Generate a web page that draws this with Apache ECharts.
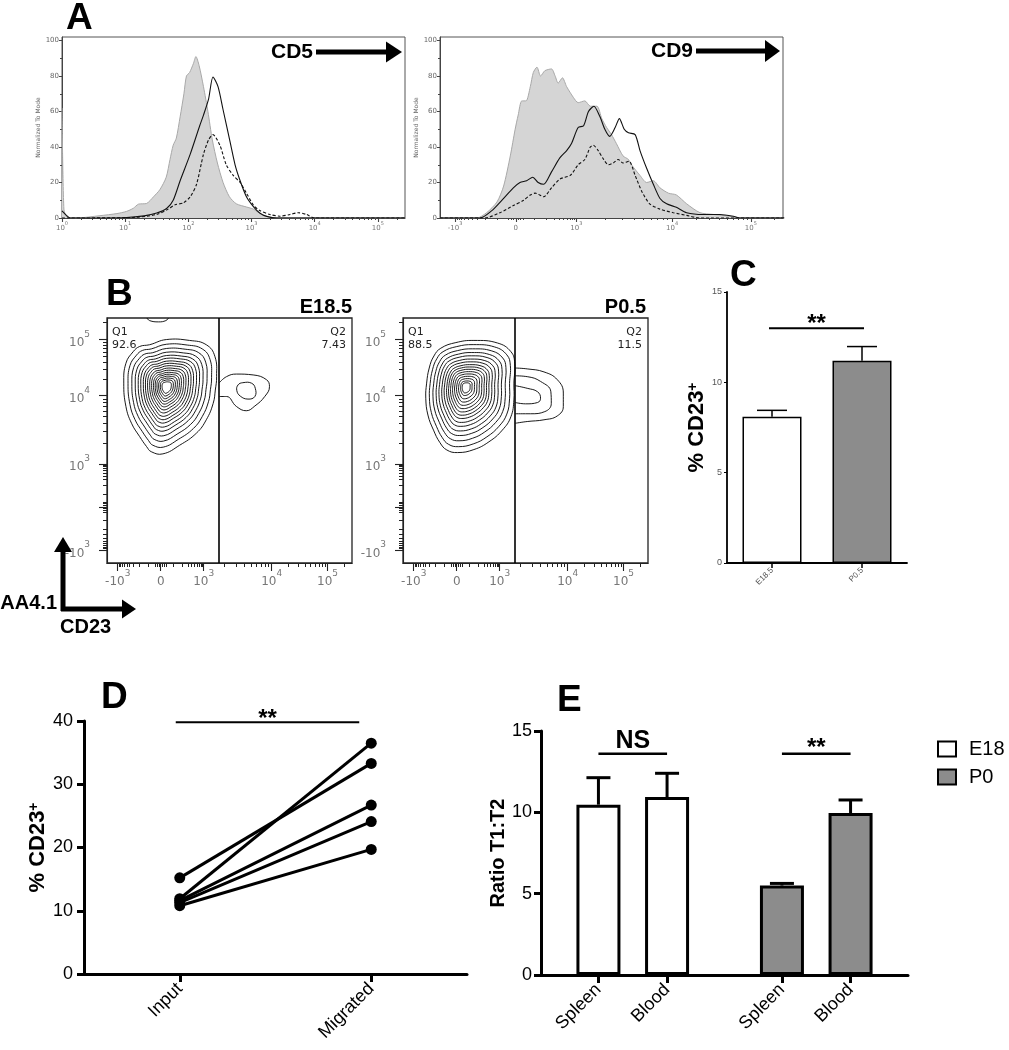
<!DOCTYPE html>
<html><head><meta charset="utf-8">
<script src="https://cdn.jsdelivr.net/npm/echarts@6.0.0/dist/echarts.min.js"></script>
<style>html,body{margin:0;padding:0;background:#fff;}#chart{width:1009px;height:1050px;}</style>
</head><body><div id="chart"></div>
<script>
// ================= DATA =================
// Panel A left: CD5 histograms (x = log10 fluorescence, y = % of mode)
const cd5TickPos = [0, 1, 2, 3, 4, 5];
const cd5TickLbl = ['10^0', '10^1', '10^2', '10^3', '10^4', '10^5'];
const cd5Control = [[0,62],[0.03,5],[0.08,0.5],[0.23,0],[0.6,1.3],[0.87,2.5],[1.02,3.7],[1.13,5.5],[1.21,7.8],[1.34,8.2],[1.45,12],[1.55,16],[1.65,23],[1.71,33],[1.76,41],[1.81,45],[1.87,57],[1.93,70],[1.97,80],[2.02,82],[2.08,87],[2.12,91],[2.17,86],[2.24,74],[2.31,60],[2.38,44],[2.46,31],[2.55,20],[2.65,12],[2.76,8],[2.92,6.2],[3.03,5],[3.16,2],[3.29,0.5],[3.45,0],[5.43,0]];
const cd5Solid = [[0,4],[0.07,1.5],[0.13,0],[1.02,0.3],[1.3,1.2],[1.5,2.8],[1.66,5.5],[1.76,10],[1.87,21],[2.03,36],[2.18,52],[2.24,58],[2.32,67],[2.39,79.5],[2.47,74],[2.55,61],[2.66,43],[2.74,30],[2.82,21],[2.92,12],[3.03,6.4],[3.13,2.8],[3.24,0.9],[3.4,0],[5.43,0]];
const cd5Dashed = [[0,0],[1.13,0.3],[1.5,2],[1.68,5],[1.79,7.5],[1.92,8.5],[2.03,12],[2.13,19],[2.24,36],[2.32,44],[2.39,47],[2.5,41],[2.6,30],[2.71,24],[2.82,20],[2.92,14],[3.03,7.3],[3.13,4.2],[3.29,2],[3.45,1],[3.61,2],[3.74,3],[3.87,2],[4.0,0],[5.43,0]];

// Flow (biexponential) display scale tick positions, shared by panels A right and B
const flowTickPos = [-1, 0, 1, 2.58, 3.88];
const flowTickLbl = ['-10^3', '0', '10^3', '10^4', '10^5'];

// Panel A right: CD9 histograms (x = display units of the biexponential scale)
const cd9Control = [[-1.25,0],[-0.64,0],[-0.48,3],[-0.31,9],[-0.2,18],[-0.09,35],[-0.01,50],[0.04,58],[0.1,66],[0.17,66],[0.24,74],[0.29,82],[0.35,85],[0.41,80],[0.48,83],[0.59,84],[0.65,80],[0.7,76],[0.77,79],[0.84,74],[0.95,68],[1.03,65],[1.14,66],[1.23,63],[1.34,63],[1.42,56],[1.5,51],[1.58,47],[1.66,42],[1.77,35],[1.86,33],[1.91,30],[2.05,24],[2.16,20],[2.27,21],[2.38,17],[2.52,14],[2.65,13],[2.82,8],[3.04,3],[3.26,2],[3.53,1],[3.7,0],[4.43,0]];
const cd9Solid = [[-1.25,0],[-0.59,0],[-0.4,4],[-0.23,10],[-0.04,17],[0.07,20],[0.18,21],[0.28,23],[0.37,20],[0.46,19],[0.59,26],[0.73,34],[0.84,38],[0.92,42],[1.03,51],[1.12,52],[1.2,60],[1.29,63],[1.39,57],[1.47,50],[1.55,46],[1.64,51],[1.71,56],[1.79,50],[1.86,48],[1.97,47],[2.05,38],[2.16,28],[2.27,19],[2.38,11],[2.49,8],[2.65,6],[2.82,3],[3.09,2],[3.37,2],[3.59,1],[3.7,0],[4.43,0]];
const cd9Dashed = [[-1.25,0],[-0.51,0],[-0.26,3],[-0.04,7],[0.13,10],[0.24,13],[0.32,14],[0.46,12],[0.59,17],[0.73,22],[0.9,24],[1.03,30],[1.14,33],[1.23,40],[1.28,41],[1.36,38],[1.45,33],[1.53,30],[1.61,31],[1.69,33],[1.77,31],[1.87,32],[1.97,24],[2.08,15],[2.21,8],[2.38,5],[2.6,3],[2.82,1.5],[3.04,0],[4.43,0]];
const histYTicks = [0, 20, 40, 60, 80, 100];

// Panel B: contour outlines (display units), ring scale factors, gate, quadrant %
const gateX = 1.365;
const e185Center = [0.13, 2.79];
const e185Outline = [[-0.26,3.76],[0.13,3.88],[0.67,3.86],[1.06,3.76],[1.26,3.49],[1.30,3.02],[1.27,2.71],[1.22,2.40],[1.06,2.02],[0.83,1.71],[0.44,1.43],[0.05,1.23],[-0.22,1.28],[-0.33,1.40],[-0.49,1.63],[-0.68,1.94],[-0.81,2.33],[-0.86,2.87],[-0.81,3.33],[-0.64,3.60],[-0.49,3.72]];
const e185RingScales = [1, 0.9, 0.81, 0.73, 0.66, 0.6, 0.54, 0.49, 0.44, 0.39, 0.345, 0.3, 0.26, 0.22, 0.18, 0.14, 0.1];
const e185Q2Outer = [[1.365,2.88],[1.53,3.02],[1.76,3.08],[2.15,3.06],[2.46,2.95],[2.53,2.79],[2.42,2.56],[2.19,2.34],[1.99,2.23],[1.76,2.33],[1.53,2.56],[1.365,2.56]];
const e185Q2Inner = [[1.80,2.83],[1.91,2.88],[2.11,2.87],[2.20,2.75],[2.19,2.56],[2.03,2.50],[1.85,2.57],[1.77,2.70]];
const e185TopEdge = [[-0.32,4.38],[-0.26,4.32],[-0.05,4.29],[0.12,4.32],[0.18,4.38]];
const e185Quad = ['92.6', '7.43'];

const p05Center = [0.21, 2.78];
const p05Outline = [[-0.37,3.68],[-0.02,3.81],[0.40,3.86],[0.95,3.80],[1.26,3.60],[1.35,3.33],[1.33,2.87],[1.33,2.48],[1.26,2.09],[1.06,1.78],[0.75,1.51],[0.40,1.33],[0.02,1.26],[-0.23,1.32],[-0.39,1.49],[-0.54,1.78],[-0.67,2.13],[-0.72,2.52],[-0.70,2.87],[-0.64,3.22],[-0.53,3.50]];
const p05RingScales = [1, 0.91, 0.82, 0.74, 0.67, 0.6, 0.54, 0.48, 0.43, 0.38, 0.33, 0.28, 0.23, 0.18, 0.13, 0.09];
const p05Q2Ring1 = [[1.365,3.22],[1.64,3.20],[2.03,3.13],[2.34,2.95],[2.48,2.64],[2.48,2.33],[2.34,2.11],[2.03,2.02],[1.64,1.98],[1.365,1.94]];
const p05Q2Ring2 = [[1.365,3.04],[1.64,3.02],[1.95,2.91],[2.19,2.67],[2.20,2.40],[2.05,2.21],[1.72,2.16],[1.365,2.16]];
const p05Q2Ring3 = [[1.365,2.81],[1.64,2.75],[1.88,2.67],[1.95,2.52],[1.88,2.42],[1.60,2.39],[1.365,2.42]];
const p05Quad = ['88.5', '11.5'];

// Panel C
const cGroups = ['E18.5', 'P0.5'];
const cMean = [8.1, 11.2];
const cSem = [0.35, 0.78];
const cSigY = 13.0;

// Panel D
const dStages = ['Input', 'Migrated'];
const dInput = [15.2, 11.9, 11.6, 11.3, 10.8];
const dMigrated = [33.3, 36.5, 26.7, 24.1, 19.7];
const dSigY = 39.8;

// Panel E
const eTissues = ['Spleen', 'Blood'];
const eE18Mean = [10.47, 10.94];
const eE18Sem = [1.66, 1.46];
const eP0Mean = [5.5, 9.96];
const eP0Sem = [0.13, 0.8];
const eSigY = [13.6, 13.6];
const eSigLbl = ['NS', '**'];

// ================= HELPERS =================
const FONT = '"Liberation Sans", Arial, Helvetica, sans-serif';
const FLOW_FONT = '"DejaVu Sans", sans-serif';
const GRAY = '#8c8c8c';

function supRich(fs, color, family) {
  return {
    b: {fontSize: fs, color: color, fontFamily: family, lineHeight: Math.round(fs * 1.6), verticalAlign: 'bottom'},
    s: {fontSize: Math.round(fs * 0.75), color: color, fontFamily: family, lineHeight: Math.round(fs * 0.6), verticalAlign: 'top'}
  };
}
function powText(lbl) {
  const m = /^(-?10)\^(-?\d+)$/.exec(lbl);
  return m ? '{b|' + m[1] + '}{s|' + m[2] + '}' : '{b|' + lbl + '}';
}
function lookupLabel(pos, lbl) {
  return function (v) {
    const i = pos.findIndex(p => Math.abs(p - v) < 1e-6);
    return i < 0 ? '' : powText(lbl[i]);
  };
}
function inRange(arr, a, b) { return arr.filter(v => v > a + 1e-6 && v < b - 1e-6); }
function logMinor(min, max) {
  const out = [];
  for (let d = 0; d < 6; d++) for (let k = 2; k <= 9; k++) out.push(d + Math.log10(k));
  return inRange(out, min, max);
}
function flowMinor(min, max) {
  const p = flowTickPos, out = [];
  for (let k = 1; k <= 9; k++) { const v = 1 + 0.7 * (Math.log10(k * 100) - 3); out.push(v, -v); }
  [0.04, 0.08, 0.12].forEach(v => out.push(v, -v));
  for (let d = 2; d < 4; d++) for (let k = 2; k <= 9; k++) out.push(p[d] + (p[d + 1] - p[d]) * Math.log10(k));
  for (let k = 2; k <= 9; k++) out.push(p[4] + (p[4] - p[3]) * Math.log10(k));
  return inRange(out, min, max);
}
function majorValueAxis(gi, pos, min, max, ticks, labels, labelPos, fs, tickLen, color, margin) {
  return {gridIndex: gi, position: pos, type: 'value', min: min, max: max, splitLine: {show: false},
    axisLine: {show: true, onZero: false, lineStyle: {color: color, width: 1.1}},
    axisTick: {show: true, customValues: ticks, length: tickLen, lineStyle: {color: color, width: 1.1}},
    axisLabel: {show: true, customValues: labelPos, formatter: lookupLabel(ticks, labels), rich: supRich(fs, '#777', FLOW_FONT), margin: margin}};
}
function minorAxis(gi, pos, min, max, ticks, len, color) {
  return {gridIndex: gi, position: pos, offset: 0, type: 'value', min: min, max: max, splitLine: {show: false},
    axisLine: {show: false, onZero: false}, axisLabel: {show: false},
    axisTick: {show: true, customValues: ticks, length: len, lineStyle: {color: color, width: 1}}};
}
function histArea(data, xi, yi) {
  return {type: 'line', xAxisIndex: xi, yAxisIndex: yi, data: data, smooth: 0.25, symbol: 'none', silent: true, z: 2,
    lineStyle: {color: '#a8a8a8', width: 1}, areaStyle: {color: '#d5d5d5', opacity: 1}};
}
function histLine(data, xi, yi, dashed) {
  return {type: 'line', xAxisIndex: xi, yAxisIndex: yi, data: data, smooth: 0.25, symbol: 'none', silent: true, z: 3,
    lineStyle: {color: '#111', width: 1.1, type: dashed ? [3, 2] : 'solid'}};
}
function ringSeries(xi, yi, rings) {
  const paths = rings.map(r => r.path);
  const data = [];
  rings.forEach((r, pi) => r.scales.forEach(s => data.push([r.center[0], r.center[1], s, pi])));
  return {type: 'custom', xAxisIndex: xi, yAxisIndex: yi, clip: true, silent: true, z: 3, data: data, encode: {x: 0, y: 1},
    renderItem: function (params, api) {
      const cx = api.value(0), cy = api.value(1), s = api.value(2), path = paths[api.value(3)];
      const pts = path.map(p => api.coord([cx + s * (p[0] - cx), cy + s * (p[1] - cy)]));
      return {type: 'polygon', shape: {points: pts, smooth: 0.45}, style: {fill: 'none', stroke: '#000', lineWidth: 0.9}};
    }};
}
function openPath(data, xi, yi, withGate) {
  const s = {type: 'line', xAxisIndex: xi, yAxisIndex: yi, data: data, smooth: 0.45, symbol: 'none', silent: true, z: 3,
    lineStyle: {color: '#000', width: 0.9}};
  if (withGate) s.markLine = {silent: true, symbol: ['none', 'none'], label: {show: false},
    lineStyle: {color: '#000', width: 1.6, type: 'solid'}, data: [{xAxis: gateX}]};
  return s;
}
function errSeries(xi, yi, data, capPx, lw) {
  return {type: 'custom', xAxisIndex: xi, yAxisIndex: yi, silent: true, z: 4, data: data, encode: {x: 0, y: [1, 2]},
    renderItem: function (params, api) {
      const x = api.value(0), m = api.value(1), e = api.value(2);
      const a = api.coord([x, m]), b = api.coord([x, m + e]);
      return {type: 'group', children: [
        {type: 'line', shape: {x1: a[0], y1: a[1], x2: b[0], y2: b[1]}, style: {stroke: '#000', lineWidth: lw}},
        {type: 'line', shape: {x1: b[0] - capPx / 2, y1: b[1], x2: b[0] + capPx / 2, y2: b[1]}, style: {stroke: '#000', lineWidth: lw}}
      ]};
    }};
}
function sigSeries(xi, yi, data, texts, opt) {
  return {type: 'custom', xAxisIndex: xi, yAxisIndex: yi, silent: true, z: 4, data: data, encode: {x: [0, 1], y: 2},
    renderItem: function (params, api) {
      const y = api.value(2);
      const a = api.coord([api.value(0), y]), b = api.coord([api.value(1), y]);
      const x1 = a[0] + opt.insL, x2 = b[0] - opt.insR;
      const t = texts[params.dataIndex];
      const big = t !== '**';
      return {type: 'group', children: [
        {type: 'line', shape: {x1: x1, y1: a[1], x2: x2, y2: a[1]}, style: {stroke: '#000', lineWidth: opt.lw}},
        {type: 'text', x: (x1 + x2) / 2, y: a[1] - (big ? opt.offBig : opt.off),
          style: {text: t, fill: '#000', fontFamily: FONT, fontWeight: 'bold', fontSize: big ? opt.fsBig : opt.fs,
            align: 'center', verticalAlign: 'middle', textAlign: 'center', textVerticalAlign: 'middle'}}
      ]};
    }};
}
const E_OFF = 0.187;
function ePos(g, i) { return g + 0.5 + (i - 0.5) * 2 * E_OFF; }
const ePositions = [ePos(0, 0), ePos(0, 1), ePos(1, 0), ePos(1, 1)];

function txt(x, y, text, fs, opts) {
  opts = opts || {};
  return {type: 'text', x: x, y: y, silent: true, z: 10,
    style: {text: text, fill: opts.color || '#000', fontFamily: opts.family || FONT, fontWeight: opts.weight || 'bold', fontSize: fs,
      align: opts.align || 'left', textAlign: opts.align || 'left', verticalAlign: 'middle', textVerticalAlign: 'middle'}};
}
function seg(x1, y1, x2, y2, w) { return {type: 'line', silent: true, z: 10, shape: {x1: x1, y1: y1, x2: x2, y2: y2}, style: {stroke: '#000', lineWidth: w}}; }
function tri(pts) { return {type: 'polygon', silent: true, z: 10, shape: {points: pts}, style: {fill: '#000'}}; }

const nameRich = (fs) => ({fontSize: fs, fontWeight: 'bold', fontFamily: FONT, color: '#000',
  rich: {s: {fontSize: Math.round(fs * 0.62), fontWeight: 'bold', fontFamily: FONT, color: '#000', verticalAlign: 'top', lineHeight: Math.round(fs * 0.62)}}});

// ================= OPTION =================
const A_X = [0, 5.43], A2_X = [-1.25, 4.41], B_X = [-1.25, 4.45], B_Y = [-1.3, 4.38], H_Y = [0, 102];
const grids = [
  {left: 62, top: 37, width: 343, height: 181, show: true, borderColor: '#555', borderWidth: 1},
  {left: 440, top: 37, width: 343, height: 181, show: true, borderColor: '#555', borderWidth: 1},
  {left: 107, top: 318, width: 245, height: 245, show: true, borderColor: '#222', borderWidth: 1.3},
  {left: 403, top: 318, width: 245, height: 245, show: true, borderColor: '#222', borderWidth: 1.3},
  {left: 727, top: 292, width: 180, height: 271},
  {left: 84, top: 721, width: 383, height: 253},
  {left: 541, top: 731, width: 367, height: 244}
].map(g => Object.assign({containLabel: false, outerBoundsMode: 'none'}, g));

function histY(gi) {
  return {gridIndex: gi, position: 'left', type: 'value', min: H_Y[0], max: H_Y[1], splitLine: {show: false},
    axisLine: {show: true, onZero: false, lineStyle: {color: '#444', width: 1}},
    axisTick: {show: true, customValues: histYTicks, length: 3, lineStyle: {color: '#444'}},
    axisLabel: {show: true, customValues: histYTicks, fontSize: 7, color: '#666', fontFamily: FLOW_FONT, margin: 3},
    name: 'Normalized To Mode', nameLocation: 'middle', nameGap: 17,
    nameTextStyle: {fontSize: 6, color: '#666', fontFamily: FLOW_FONT}};
}
const histYMinor = [10, 30, 50, 70, 90];
const bYLabelPos = [-1, 1, 2.58, 3.88];

const option = {
  animation: false,
  backgroundColor: '#fff',
  textStyle: {fontFamily: FONT},
  grid: grids,
  legend: {show: true, selectedMode: false, orient: 'vertical', left: 932, top: 734, itemWidth: 18, itemHeight: 15, itemGap: 8,
    icon: 'rect', data: ['E18', 'P0'],
    textStyle: {fontSize: 20, fontFamily: FONT, color: '#000', lineHeight: 20, padding: [0, 0, 0, 8]}},
  xAxis: [
    majorValueAxis(0, 'bottom', A_X[0], A_X[1], cd5TickPos, cd5TickLbl, cd5TickPos, 7, 4, '#444', 3),
    minorAxis(0, 'bottom', A_X[0], A_X[1], logMinor(A_X[0], A_X[1]), 2, '#444'),
    majorValueAxis(1, 'bottom', A2_X[0], A2_X[1], flowTickPos, flowTickLbl, flowTickPos, 7, 4, '#444', 3),
    minorAxis(1, 'bottom', A2_X[0], A2_X[1], flowMinor(A2_X[0], A2_X[1]), 2, '#444'),
    majorValueAxis(2, 'bottom', B_X[0], B_X[1], flowTickPos, flowTickLbl, flowTickPos, 12, 8, '#222', 6),
    minorAxis(2, 'bottom', B_X[0], B_X[1], flowMinor(B_X[0], B_X[1]), 4, '#222'),
    majorValueAxis(3, 'bottom', B_X[0], B_X[1], flowTickPos, flowTickLbl, flowTickPos, 12, 8, '#222', 6),
    minorAxis(3, 'bottom', B_X[0], B_X[1], flowMinor(B_X[0], B_X[1]), 4, '#222'),
    {gridIndex: 4, position: 'bottom', type: 'category', data: cGroups, boundaryGap: true,
      axisLine: {show: true, onZero: false, lineStyle: {color: '#000', width: 1.8}},
      axisTick: {show: true, alignWithLabel: true, length: 5, lineStyle: {color: '#000', width: 1.5}},
      axisLabel: {rotate: 45, fontSize: 8, color: '#555', fontFamily: FONT, margin: 6}},
    {gridIndex: 5, position: 'bottom', type: 'category', data: dStages, boundaryGap: true,
      axisLine: {show: true, onZero: false, lineStyle: {color: '#000', width: 3}},
      axisTick: {show: true, alignWithLabel: true, length: 8, lineStyle: {color: '#000', width: 3}},
      axisLabel: {rotate: 45, fontSize: 18, color: '#000', fontFamily: FONT, margin: 12}},
    {gridIndex: 6, position: 'bottom', type: 'value', min: 0, max: 2, splitLine: {show: false},
      axisLine: {show: true, onZero: false, lineStyle: {color: '#000', width: 3}},
      axisTick: {show: true, customValues: ePositions, length: 8, lineStyle: {color: '#000', width: 3}},
      axisLabel: {show: true, customValues: ePositions, rotate: 45, fontSize: 18, color: '#000', fontFamily: FONT, margin: 12,
        formatter: function (v) { const i = ePositions.findIndex(p => Math.abs(p - v) < 1e-6); return i < 0 ? '' : eTissues[i % 2]; }}}
  ],
  yAxis: [
    histY(0),
    minorAxis(0, 'left', H_Y[0], H_Y[1], histYMinor, 2, '#444'),
    histY(1),
    minorAxis(1, 'left', H_Y[0], H_Y[1], histYMinor, 2, '#444'),
    majorValueAxis(2, 'left', B_Y[0], B_Y[1], flowTickPos, flowTickLbl, bYLabelPos, 12, 8, '#222', 17),
    minorAxis(2, 'left', B_Y[0], B_Y[1], flowMinor(B_Y[0], B_Y[1]), 4, '#222'),
    majorValueAxis(3, 'left', B_Y[0], B_Y[1], flowTickPos, flowTickLbl, bYLabelPos, 12, 8, '#222', 17),
    minorAxis(3, 'left', B_Y[0], B_Y[1], flowMinor(B_Y[0], B_Y[1]), 4, '#222'),
    {gridIndex: 4, position: 'left', type: 'value', min: 0, max: 15, interval: 5, splitLine: {show: false},
      axisLine: {show: true, onZero: false, lineStyle: {color: '#000', width: 1.8}},
      axisTick: {show: true, length: 3, lineStyle: {color: '#000', width: 1}},
      axisLabel: {fontSize: 9, color: '#555', fontFamily: FONT, margin: 5},
      name: '% CD23{s|+}', nameLocation: 'middle', nameGap: 12, nameTextStyle: nameRich(22)},
    {gridIndex: 5, position: 'left', type: 'value', min: 0, max: 40, interval: 10, splitLine: {show: false},
      axisLine: {show: true, onZero: false, lineStyle: {color: '#000', width: 3}},
      axisTick: {show: true, length: 7, lineStyle: {color: '#000', width: 3}},
      axisLabel: {fontSize: 18, color: '#000', fontFamily: FONT, margin: 11},
      name: '% CD23{s|+}', nameLocation: 'middle', nameGap: 29, nameTextStyle: nameRich(22)},
    {gridIndex: 6, position: 'left', type: 'value', min: 0, max: 15, interval: 5, splitLine: {show: false},
      axisLine: {show: true, onZero: false, lineStyle: {color: '#000', width: 3}},
      axisTick: {show: true, length: 7, lineStyle: {color: '#000', width: 3}},
      axisLabel: {fontSize: 18, color: '#000', fontFamily: FONT, margin: 9},
      name: 'Ratio T1:T2', nameLocation: 'middle', nameGap: 29, nameTextStyle: {fontSize: 20, fontWeight: 'bold', fontFamily: FONT, color: '#000'}}
  ],
  series: [
    // A left
    histArea(cd5Control, 0, 0), histLine(cd5Solid, 0, 0, false), histLine(cd5Dashed, 0, 0, true),
    // A right
    histArea(cd9Control, 2, 2), histLine(cd9Solid, 2, 2, false), histLine(cd9Dashed, 2, 2, true),
    // B left (E18.5)
    ringSeries(4, 4, [{path: e185Outline, center: e185Center, scales: e185RingScales}, {path: e185Q2Inner, center: [0, 0], scales: [1]}]),
    openPath(e185Q2Outer, 4, 4, true), openPath(e185TopEdge, 4, 4, false),
    // B right (P0.5)
    ringSeries(6, 6, [{path: p05Outline, center: p05Center, scales: p05RingScales}]),
    openPath(p05Q2Ring1, 6, 6, true), openPath(p05Q2Ring2, 6, 6, false), openPath(p05Q2Ring3, 6, 6, false),
    // C
    {type: 'bar', xAxisIndex: 8, yAxisIndex: 8, barWidth: 59, silent: true,
      data: cMean.map((v, i) => ({value: v, itemStyle: {color: i === 0 ? '#fff' : GRAY}})),
      itemStyle: {borderColor: '#000', borderWidth: 1.5}},
    errSeries(8, 8, cGroups.map((g, i) => [g, cMean[i], cSem[i]]), 30, 1.5),
    sigSeries(8, 8, [[cGroups[0], cGroups[1], cSigY]], ['**'], {insL: -3, insR: -2, lw: 2, off: 4, fs: 24, offBig: 12, fsBig: 25}),
    // D
    ...dInput.map((v, i) => ({type: 'line', xAxisIndex: 9, yAxisIndex: 9, data: [v, dMigrated[i]], silent: true, z: 3,
      symbol: 'circle', symbolSize: 11, lineStyle: {color: '#000', width: 3}, itemStyle: {color: '#000'}})),
    sigSeries(9, 9, [[dStages[0], dStages[1], dSigY]], ['**'], {insL: -4, insR: 12, lw: 2, off: 3, fs: 24, offBig: 12, fsBig: 25}),
    // E
    {name: 'E18', type: 'bar', xAxisIndex: 10, yAxisIndex: 10, barWidth: 44, barGap: '-100%', silent: true,
      data: eE18Mean.map((v, i) => [ePos(0, i), v]), itemStyle: {color: '#fff', borderColor: '#000', borderWidth: 3}},
    {name: 'P0', type: 'bar', xAxisIndex: 10, yAxisIndex: 10, barWidth: 44, barGap: '-100%', silent: true,
      data: eP0Mean.map((v, i) => [ePos(1, i), v]), itemStyle: {color: GRAY, borderColor: '#000', borderWidth: 3}},
    errSeries(10, 10, eE18Mean.map((v, i) => [ePos(0, i), v, eE18Sem[i]]).concat(eP0Mean.map((v, i) => [ePos(1, i), v, eP0Sem[i]])), 24, 3),
    sigSeries(10, 10, [[ePos(0, 0), ePos(0, 1), eSigY[0]], [ePos(1, 0), ePos(1, 1), eSigY[1]]], eSigLbl,
      {insL: 0, insR: 0, lw: 2.5, off: 5, fs: 24, offBig: 13, fsBig: 25})
  ],
  graphic: {elements: [
    // panel letters
    txt(66, 19, 'A', 37), txt(106, 295, 'B', 37), txt(730, 276, 'C', 37), txt(101, 698, 'D', 37), txt(557, 701, 'E', 37),
    // A markers
    txt(313, 52, 'CD5', 21, {align: 'right'}), seg(316, 52, 390, 52, 5), tri([[386, 41.5], [402, 52], [386, 62.5]]),
    txt(693, 51, 'CD9', 21, {align: 'right'}), seg(696, 51, 768, 51, 5), tri([[765, 40], [780, 51], [765, 62]]),
    // B titles and quadrant labels
    txt(352, 307, 'E18.5', 20, {align: 'right'}), txt(646, 307, 'P0.5', 20, {align: 'right'}),
    txt(112, 332.5, 'Q1', 11, {weight: 'normal', family: FLOW_FONT, color: '#222'}),
    txt(112, 345.5, e185Quad[0], 11, {weight: 'normal', family: FLOW_FONT, color: '#222'}),
    txt(346, 332.5, 'Q2', 11, {weight: 'normal', family: FLOW_FONT, color: '#222', align: 'right'}),
    txt(346, 345.5, e185Quad[1], 11, {weight: 'normal', family: FLOW_FONT, color: '#222', align: 'right'}),
    txt(408, 332.5, 'Q1', 11, {weight: 'normal', family: FLOW_FONT, color: '#222'}),
    txt(408, 345.5, p05Quad[0], 11, {weight: 'normal', family: FLOW_FONT, color: '#222'}),
    txt(642, 332.5, 'Q2', 11, {weight: 'normal', family: FLOW_FONT, color: '#222', align: 'right'}),
    txt(642, 345.5, p05Quad[1], 11, {weight: 'normal', family: FLOW_FONT, color: '#222', align: 'right'}),
    // axis key arrows (AA4.1 / CD23)
    seg(63, 611, 63, 549, 5), tri([[54, 552], [63, 537], [72, 552]]),
    seg(61, 609, 125, 609, 5), tri([[122, 599.5], [136, 609], [122, 618.5]]),
    txt(57, 603, 'AA4.1', 20, {align: 'right'}), txt(60, 627, 'CD23', 20)
  ]}
};

const chart = echarts.init(document.getElementById('chart'), null, {renderer: 'canvas'});
chart.setOption(option);
</script></body></html>
